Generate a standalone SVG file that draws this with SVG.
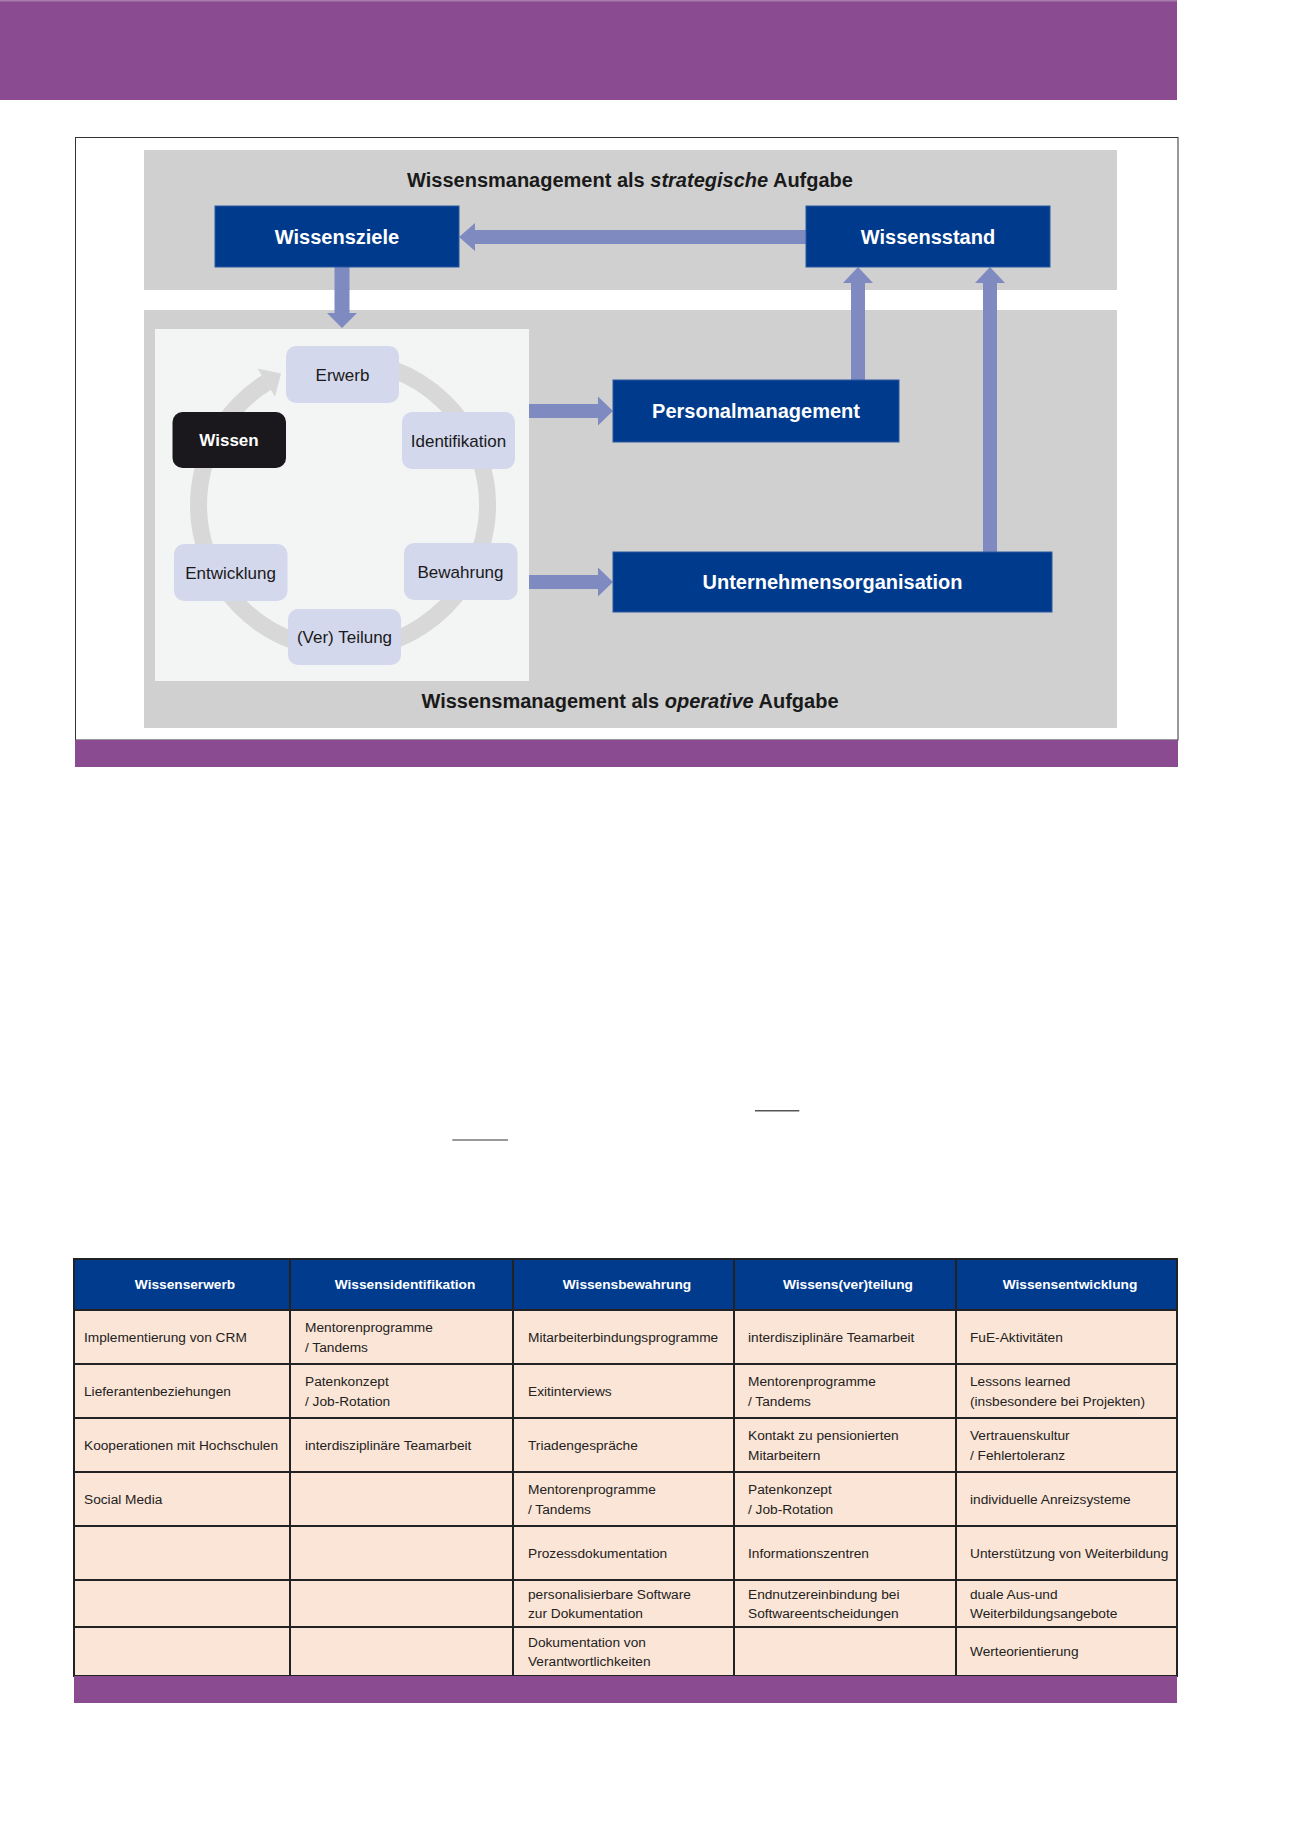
<svg xmlns="http://www.w3.org/2000/svg" width="1300" height="1839" viewBox="0 0 1300 1839">
<style>
text{font-family:"Liberation Sans",Arial,sans-serif}
.purple{fill:#8a4b91}
.panel{fill:#d0d0d0}
.blue{fill:#003a8c;stroke:#2a58a2;stroke-width:1}
.bt{fill:#fff;font-weight:bold;font-size:20px;text-anchor:middle}
.ttl{fill:#1a1a1a;font-weight:bold;font-size:20px;text-anchor:middle}
.cyc{fill:#d4d8ec}
.ct{fill:#1a1a1a;font-size:17px;text-anchor:middle}
.arw{fill:#7f8bc0}
.cell{fill:#fbe5d6;stroke:#222;stroke-width:2}
.hcell{fill:#003b8e;stroke:#222;stroke-width:2}
.ht{fill:#fff;font-weight:bold;font-size:13.7px;text-anchor:middle}
.tt{fill:#222;font-size:13.7px}
</style>
<rect class="purple" x="0" y="0" width="1177" height="100"/>
<rect x="0" y="0" width="1177" height="1.5" fill="#a77dad"/>
<g id="frame">
<rect x="75.5" y="137.5" width="1102.5" height="602.5" fill="#fff" stroke="#333" stroke-width="1"/>
<rect class="purple" x="75" y="740" width="1103" height="27"/>
</g>
<g id="strategic-panel">
<rect class="panel" x="144" y="150" width="973" height="140"/>
<text class="ttl" x="630" y="186.5">Wissensmanagement als <tspan font-style="italic">strategische</tspan> Aufgabe</text>
</g>
<g id="operative-panel">
<rect class="panel" x="144" y="310" width="973" height="418"/>
<rect x="155" y="329" width="374" height="352" fill="#f3f4f4"/>
<text class="ttl" x="630" y="708">Wissensmanagement als <tspan font-style="italic">operative</tspan> Aufgabe</text>
</g>
<g id="cycle-ring">
<path d="M392.4,369.2 A144.5,144.5 0 1 1 266.4,382.5" fill="none" stroke="#d8d8d8" stroke-width="17"/>
<polygon points="281,373.5 257.5,368.5 275,396.5" fill="#d8d8d8"/>
</g>
<g id="connectors">
<polygon class="arw" points="806,230 475,230 475,223 459,237 475,251 475,244 806,244"/>
<polygon class="arw" points="334.5,267 349.5,267 349.5,313 357,313 342,328 327,313 334.5,313"/>
<polygon class="arw" points="529,404 598,404 598,396.5 613,411 598,425.5 598,418 529,418"/>
<polygon class="arw" points="529,575 598,575 598,567.5 613,582 598,596.5 598,589 529,589"/>
<polygon class="arw" points="851,380 851,283 843,283 858,267 873,283 865,283 865,380"/>
<polygon class="arw" points="983,552 983,283 975,283 990,267 1005,283 997,283 997,552"/>
</g>
<g id="wissensziele"><rect class="blue" x="215" y="206" width="244" height="61"/><text class="bt" x="337" y="244">Wissensziele</text></g>
<g id="wissensstand"><rect class="blue" x="806" y="206" width="244" height="61"/><text class="bt" x="928" y="244">Wissensstand</text></g>
<g id="personalmanagement"><rect class="blue" x="613" y="380" width="286" height="62"/><text class="bt" x="756" y="418">Personalmanagement</text></g>
<g id="unternehmensorganisation"><rect class="blue" x="613" y="552" width="439" height="60"/><text class="bt" x="832.5" y="589">Unternehmensorganisation</text></g>
<g id="erwerb"><rect class="cyc" x="286" y="346" width="113" height="57" rx="10"/><text class="ct" x="342.5" y="380.5">Erwerb</text></g>
<g id="wissen"><rect x="172.5" y="412" width="113.5" height="56" rx="10" fill="#1a181c"/><text class="ct" x="229" y="446" fill="#fff" style="fill:#fff;font-weight:bold">Wissen</text></g>
<g id="identifikation"><rect class="cyc" x="402" y="412" width="113" height="57" rx="10"/><text class="ct" x="458.5" y="446.5">Identifikation</text></g>
<g id="entwicklung"><rect class="cyc" x="174" y="544" width="113.5" height="57" rx="10"/><text class="ct" x="230.5" y="578.5">Entwicklung</text></g>
<g id="bewahrung"><rect class="cyc" x="404" y="543" width="113.5" height="57" rx="10"/><text class="ct" x="460.5" y="577.5">Bewahrung</text></g>
<g id="teilung"><rect class="cyc" x="288" y="609" width="113" height="56" rx="10"/><text class="ct" x="344.5" y="643">(Ver) Teilung</text></g>
<line x1="755" y1="1110.7" x2="799.3" y2="1110.7" stroke="#555" stroke-width="1.4"/>
<line x1="452.3" y1="1140" x2="508" y2="1140" stroke="#777" stroke-width="1.4"/>
<g id="table">
<rect class="hcell" x="74" y="1259" width="216" height="51"/>
<rect class="hcell" x="290" y="1259" width="223" height="51"/>
<rect class="hcell" x="513" y="1259" width="221" height="51"/>
<rect class="hcell" x="734" y="1259" width="222" height="51"/>
<rect class="hcell" x="956" y="1259" width="221" height="51"/>
<text class="ht" x="185" y="1289.4">Wissenserwerb</text>
<text class="ht" x="405" y="1289.4">Wissensidentifikation</text>
<text class="ht" x="627" y="1289.4">Wissensbewahrung</text>
<text class="ht" x="848" y="1289.4">Wissens(ver)teilung</text>
<text class="ht" x="1070" y="1289.4">Wissensentwicklung</text>
<g id="row1">
<rect class="cell" x="74" y="1310" width="216" height="54"/><rect class="cell" x="290" y="1310" width="223" height="54"/><rect class="cell" x="513" y="1310" width="221" height="54"/><rect class="cell" x="734" y="1310" width="222" height="54"/><rect class="cell" x="956" y="1310" width="221" height="54"/>
<text class="tt" x="84" y="1342">Implementierung von CRM</text>
<text class="tt" x="305" y="1332.2">Mentorenprogramme</text><text class="tt" x="305" y="1351.7">/ Tandems</text>
<text class="tt" x="528" y="1342">Mitarbeiterbindungsprogramme</text>
<text class="tt" x="748" y="1342">interdisziplinäre Teamarbeit</text>
<text class="tt" x="970" y="1342">FuE-Aktivitäten</text>
</g>
<g id="row2">
<rect class="cell" x="74" y="1364" width="216" height="54"/><rect class="cell" x="290" y="1364" width="223" height="54"/><rect class="cell" x="513" y="1364" width="221" height="54"/><rect class="cell" x="734" y="1364" width="222" height="54"/><rect class="cell" x="956" y="1364" width="221" height="54"/>
<text class="tt" x="84" y="1396">Lieferantenbeziehungen</text>
<text class="tt" x="305" y="1386.2">Patenkonzept</text><text class="tt" x="305" y="1405.7">/ Job-Rotation</text>
<text class="tt" x="528" y="1396">Exitinterviews</text>
<text class="tt" x="748" y="1386.2">Mentorenprogramme</text><text class="tt" x="748" y="1405.7">/ Tandems</text>
<text class="tt" x="970" y="1386.2">Lessons learned</text><text class="tt" x="970" y="1405.7">(insbesondere bei Projekten)</text>
</g>
<g id="row3">
<rect class="cell" x="74" y="1418" width="216" height="54"/><rect class="cell" x="290" y="1418" width="223" height="54"/><rect class="cell" x="513" y="1418" width="221" height="54"/><rect class="cell" x="734" y="1418" width="222" height="54"/><rect class="cell" x="956" y="1418" width="221" height="54"/>
<text class="tt" x="84" y="1450">Kooperationen mit Hochschulen</text>
<text class="tt" x="305" y="1450">interdisziplinäre Teamarbeit</text>
<text class="tt" x="528" y="1450">Triadengespräche</text>
<text class="tt" x="748" y="1440.2">Kontakt zu pensionierten</text><text class="tt" x="748" y="1459.7">Mitarbeitern</text>
<text class="tt" x="970" y="1440.2">Vertrauenskultur</text><text class="tt" x="970" y="1459.7">/ Fehlertoleranz</text>
</g>
<g id="row4">
<rect class="cell" x="74" y="1472" width="216" height="54"/><rect class="cell" x="290" y="1472" width="223" height="54"/><rect class="cell" x="513" y="1472" width="221" height="54"/><rect class="cell" x="734" y="1472" width="222" height="54"/><rect class="cell" x="956" y="1472" width="221" height="54"/>
<text class="tt" x="84" y="1504">Social Media</text>
<text class="tt" x="528" y="1494.2">Mentorenprogramme</text><text class="tt" x="528" y="1513.7">/ Tandems</text>
<text class="tt" x="748" y="1494.2">Patenkonzept</text><text class="tt" x="748" y="1513.7">/ Job-Rotation</text>
<text class="tt" x="970" y="1504">individuelle Anreizsysteme</text>
</g>
<g id="row5">
<rect class="cell" x="74" y="1526" width="216" height="54"/><rect class="cell" x="290" y="1526" width="223" height="54"/><rect class="cell" x="513" y="1526" width="221" height="54"/><rect class="cell" x="734" y="1526" width="222" height="54"/><rect class="cell" x="956" y="1526" width="221" height="54"/>
<text class="tt" x="528" y="1558">Prozessdokumentation</text>
<text class="tt" x="748" y="1558">Informationszentren</text>
<text class="tt" x="970" y="1558">Unterstützung von Weiterbildung</text>
</g>
<g id="row6">
<rect class="cell" x="74" y="1580" width="216" height="47"/><rect class="cell" x="290" y="1580" width="223" height="47"/><rect class="cell" x="513" y="1580" width="221" height="47"/><rect class="cell" x="734" y="1580" width="222" height="47"/><rect class="cell" x="956" y="1580" width="221" height="47"/>
<text class="tt" x="528" y="1598.6">personalisierbare Software</text><text class="tt" x="528" y="1618.1">zur Dokumentation</text>
<text class="tt" x="748" y="1598.6">Endnutzereinbindung bei</text><text class="tt" x="748" y="1618.1">Softwareentscheidungen</text>
<text class="tt" x="970" y="1598.6">duale Aus-und</text><text class="tt" x="970" y="1618.1">Weiterbildungsangebote</text>
</g>
<g id="row7">
<rect class="cell" x="74" y="1627" width="216" height="49"/><rect class="cell" x="290" y="1627" width="223" height="49"/><rect class="cell" x="513" y="1627" width="221" height="49"/><rect class="cell" x="734" y="1627" width="222" height="49"/><rect class="cell" x="956" y="1627" width="221" height="49"/>
<text class="tt" x="528" y="1646.6">Dokumentation von</text><text class="tt" x="528" y="1666.1">Verantwortlichkeiten</text>
<text class="tt" x="970" y="1656.4">Werteorientierung</text>
</g>
<rect class="purple" x="74" y="1676" width="1103" height="27"/>
</g>
</svg>
